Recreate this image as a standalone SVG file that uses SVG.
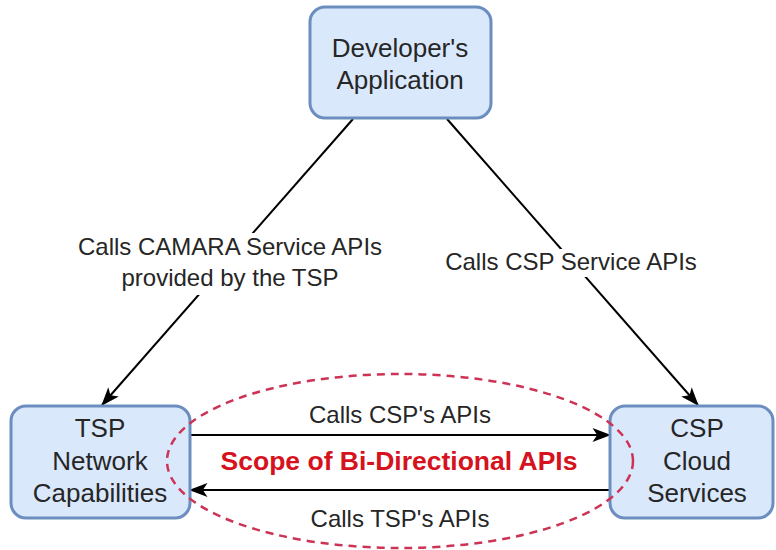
<svg xmlns="http://www.w3.org/2000/svg" width="776" height="550" viewBox="0 0 776 550">
  <defs>
    <marker id="arrow" viewBox="0 0 16 12" refX="15" refY="6" markerWidth="19" markerHeight="14" markerUnits="userSpaceOnUse" orient="auto">
      <path d="M0,0 L16,6 L0,12 L4,6 Z" fill="#000"/>
    </marker>
    <style>
      .box { fill: #dae8fc; stroke: #6c8ebf; stroke-width: 3; }
      .ntext { font-family: "Liberation Sans", Arial, sans-serif; font-size: 26px; fill: #262626; text-anchor: middle; }
      .etext { font-family: "Liberation Sans", Arial, sans-serif; font-size: 24px; fill: #262626; text-anchor: middle; }
      .edge { stroke: #000; stroke-width: 2; fill: none; marker-end: url(#arrow); }
      .scope { fill: none; stroke: #cc3355; stroke-width: 2.5; stroke-dasharray: 8 6; }
      .stext { font-family: "Liberation Sans", Arial, sans-serif; font-size: 26.5px; font-weight: bold; fill: #d5121d; text-anchor: middle; }
    </style>
  </defs>
  <rect width="776" height="550" fill="#ffffff"/>

  <g id="connectors">
    <line class="edge" x1="353" y1="119" x2="102" y2="405"/>
    <line class="edge" x1="447" y1="119" x2="698" y2="405"/>
    <line class="edge" x1="190" y1="435" x2="610" y2="435"/>
    <line class="edge" x1="610" y1="490" x2="190" y2="490"/>
    <rect x="72" y="233" width="316" height="62" fill="#ffffff"/>
    <text class="etext" x="230" y="255">Calls CAMARA Service APIs</text>
    <text class="etext" x="230" y="286">provided by the TSP</text>
    <rect x="440" y="249" width="262" height="28" fill="#ffffff"/>
    <text class="etext" x="571" y="270">Calls CSP Service APIs</text>
    <text class="etext" x="400" y="423">Calls CSP's APIs</text>
    <text class="etext" x="400" y="527">Calls TSP's APIs</text>
  </g>

  <g id="developer-app">
    <rect class="box" x="310" y="7" width="181" height="111" rx="15"/>
    <text class="ntext" x="400" y="57">Developer's</text>
    <text class="ntext" x="400" y="89">Application</text>
  </g>

  <g id="tsp">
    <rect class="box" x="11" y="406" width="179" height="112" rx="15"/>
    <text class="ntext" x="100" y="437">TSP</text>
    <text class="ntext" x="100" y="470">Network</text>
    <text class="ntext" x="100" y="502">Capabilities</text>
  </g>

  <g id="csp">
    <rect class="box" x="610" y="406" width="163" height="112" rx="15"/>
    <text class="ntext" x="697" y="437">CSP</text>
    <text class="ntext" x="697" y="470">Cloud</text>
    <text class="ntext" x="697" y="502">Services</text>
  </g>

  <g id="scope">
    <ellipse class="scope" cx="400" cy="461" rx="233" ry="87"/>
    <text class="stext" x="399" y="470">Scope of Bi-Directional APIs</text>
  </g>
</svg>
